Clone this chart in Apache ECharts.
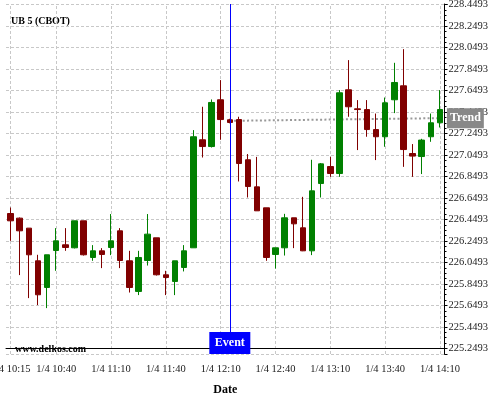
<!DOCTYPE html>
<html><head><meta charset="utf-8">
<script src="https://cdn.jsdelivr.net/npm/echarts@6/dist/echarts.min.js"></script>
<style>html,body{margin:0;padding:0;background:#fff}#c{width:500px;height:400px}</style>
</head><body><div id="c"></div>
<script>
const categories = ['1/4 10:15','1/4 10:20','1/4 10:25','1/4 10:30','1/4 10:35','1/4 10:40','1/4 10:45','1/4 10:50','1/4 10:55','1/4 11:00','1/4 11:05','1/4 11:10','1/4 11:15','1/4 11:20','1/4 11:25','1/4 11:30','1/4 11:35','1/4 11:40','1/4 11:45','1/4 11:50','1/4 11:55','1/4 12:00','1/4 12:05','1/4 12:10','1/4 12:15','1/4 12:20','1/4 12:25','1/4 12:30','1/4 12:35','1/4 12:40','1/4 12:45','1/4 12:50','1/4 12:55','1/4 13:00','1/4 13:05','1/4 13:10','1/4 13:15','1/4 13:20','1/4 13:25','1/4 13:30','1/4 13:35','1/4 13:40','1/4 13:45','1/4 13:50','1/4 13:55','1/4 14:00','1/4 14:05','1/4 14:10'];
const openV = [226.505,226.462,226.369,226.065,225.817,226.161,226.214,226.186,226.437,226.096,226.158,226.189,226.344,226.065,225.780,226.068,226.279,225.935,225.873,226.003,226.186,227.191,227.128,227.563,227.377,227.379,227.005,226.753,226.558,226.124,226.186,226.465,226.372,226.158,226.784,226.942,226.877,227.656,227.479,227.472,227.286,227.219,227.563,227.693,227.063,227.035,227.219,227.349];
const closeV = [226.437,226.344,226.121,225.749,226.121,226.251,226.189,226.437,226.121,226.158,226.124,226.251,226.068,225.817,226.096,226.313,225.935,225.910,226.065,226.158,227.219,227.128,227.538,227.379,227.352,226.970,226.756,226.530,226.096,226.186,226.465,226.409,226.158,226.716,226.967,226.877,227.628,227.498,227.472,227.286,227.219,227.535,227.724,227.100,227.039,227.188,227.349,227.472];
const highV = [226.561,226.468,226.369,226.121,226.121,226.369,226.369,226.437,226.437,226.211,226.183,226.500,226.369,226.158,226.158,226.500,226.279,225.972,226.065,226.211,227.281,227.498,227.566,227.746,227.386,227.405,227.058,227.032,226.558,226.186,226.502,226.465,226.660,227.005,226.975,227.032,227.653,227.932,227.560,227.560,227.435,227.584,227.907,228.034,227.151,227.200,227.435,227.653];
const lowV = [226.251,225.932,225.718,225.653,225.625,225.972,226.158,226.180,226.114,226.065,225.997,226.118,225.997,225.770,225.746,226.021,225.928,225.746,225.746,225.966,226.186,227.026,227.119,227.191,227.344,226.803,226.654,226.530,226.065,225.993,226.114,226.183,226.155,226.118,226.654,226.846,226.846,227.405,227.095,227.219,227.002,227.126,227.439,226.939,226.846,226.872,227.172,227.305];
const labeledTimes = ['1/4 10:15','1/4 10:40','1/4 11:10','1/4 11:40','1/4 12:10','1/4 12:40','1/4 13:10','1/4 13:40','1/4 14:10'];
const eventTime = '1/4 12:15';
const trendTimes = ['1/4 12:15','1/4 14:10'];
const trendValues = [227.367, 227.392];
const TICK_BASE = 225.2493;   // y tick labels are TICK_BASE + k*0.2
const TICK_STEP = 0.2;
const Y_MIN = 225.1981, Y_MAX = 228.4540;

const FONT = '"Liberation Serif","Times New Roman",serif';
const u = v => +(v - TICK_BASE).toFixed(5);
const candleData = categories.map((c, i) => [u(openV[i]), u(closeV[i]), u(lowV[i]), u(highV[i])]);
const isLabeled = (i, v) => labeledTimes.includes(v === undefined ? categories[i] : v);
const gridStyle = { color: '#c8c8c8', type: [3, 2], width: 1 };

const chart = echarts.init(document.getElementById('c'), null, { renderer: 'canvas' });
chart.setOption({
  animation: false,
  backgroundColor: '#fff',
  grid: { left: 6, right: 55.5, top: 4, bottom: 46, containLabel: false, outerBoundsMode: 'none' },
  xAxis: {
    type: 'category', data: categories, boundaryGap: true,
    axisLine: { lineStyle: { color: '#000', width: 1 } },
    axisTick: { alignWithLabel: true, interval: 0, length: 4, lineStyle: { color: '#000' } },
    axisLabel: { interval: isLabeled, margin: 10, fontSize: 10.5, color: '#222', fontFamily: FONT, hideOverlap: false },
    splitLine: { show: false },
    name: 'Date', nameLocation: 'middle', nameGap: 30,
    nameTextStyle: { fontWeight: 'bold', fontSize: 12, color: '#000', fontFamily: FONT }
  },
  yAxis: {
    type: 'value', position: 'right', min: u(Y_MIN), max: u(Y_MAX), splitNumber: 16,
    axisLine: { show: true, lineStyle: { color: '#000', width: 1 } },
    axisTick: { show: true, length: 3, lineStyle: { color: '#000' } },
    minorTick: { show: true, splitNumber: 4, length: 2, lineStyle: { color: '#000' } },
    axisLabel: {
      margin: 4, fontSize: 10.5, color: '#222', fontFamily: FONT,
      formatter: v => {
        const k = Math.round(v / TICK_STEP);
        if (Math.abs(v - k * TICK_STEP) > 1e-6) return '';
        return (TICK_BASE + k * TICK_STEP).toFixed(4);
      }
    },
    splitLine: { show: true, lineStyle: gridStyle }
  },
  graphic: [
    { type: 'text', left: 11, top: 16, style: { text: 'UB 5 (CBOT)', font: 'bold 10px ' + FONT, fill: '#000' } },
    { type: 'text', left: 15, top: 344, style: { text: 'www.delkos.com', font: 'bold 10px ' + FONT, fill: '#000' } }
  ],
  series: [
    {
      type: 'line', z: 1, silent: true,
      data: trendTimes.map((t, i) => [t, u(trendValues[i])]),
      symbol: 'none',
      lineStyle: { color: '#999', type: [2, 2.3], width: 2 },
      endLabel: {
        show: true, formatter: 'Trend', color: '#fff', backgroundColor: '#888',
        fontWeight: 'bold', fontSize: 12, fontFamily: FONT, padding: [4, 3], distance: 7
      },
      markLine: {
        silent: true, symbol: ['none', 'none'], label: { show: false }, z: 0,
        lineStyle: gridStyle,
        emphasis: { disabled: true },
        data: labeledTimes.map(t => ({ xAxis: t }))
      }
    },
    {
      type: 'candlestick', z: 3, data: candleData, barWidth: 6,
      itemStyle: { color: '#008000', color0: '#800000', borderColor: '#008000', borderColor0: '#800000', borderWidth: 1 },
      markLine: {
        silent: true, symbol: ['none', 'none'], label: { show: false },
        lineStyle: { color: '#0000ff', width: 1, type: 'solid' },
        data: [{ xAxis: eventTime }]
      },
      markPoint: {
        silent: true,
        data: [{
          coord: [eventTime, u(Y_MIN)], symbol: 'rect', symbolSize: [41, 22], symbolOffset: [0, -11],
          itemStyle: { color: '#0000ff' },
          label: { show: true, position: 'inside', formatter: 'Event', color: '#fff', fontWeight: 'bold', fontSize: 12, fontFamily: FONT }
        }]
      }
    }
  ]
});
</script></body></html>
